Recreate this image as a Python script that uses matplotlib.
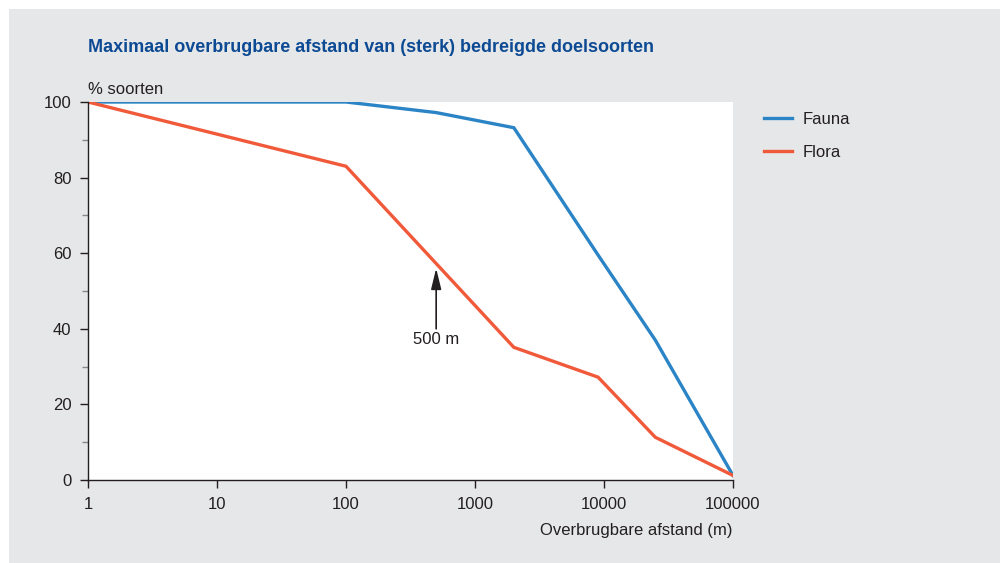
import matplotlib.pyplot as plt
from matplotlib.patches import Rectangle

afstand_fauna = [1, 100, 500, 2000, 9000, 25000, 100000]
fauna = [100, 100, 97.2, 93.2, 59.5, 37.0, 1.2]
afstand_flora = [1, 100, 2000, 9000, 25000, 100000]
flora = [100, 83, 35.1, 27.2, 11.3, 1.2]
x_ticks = [1, 10, 100, 1000, 10000, 100000]
y_ticks = [0, 20, 40, 60, 80, 100]

blue = '#2a84c6'
red = '#f05a3a'
grey_bg = '#e6e7e8'
plt.rcParams['font.family'] = ['Liberation Sans', 'DejaVu Sans']

fig = plt.figure(figsize=(10, 5.63), dpi=100)
fig.patch.set_facecolor('white')
fig.patches.append(Rectangle((0.009, 0), 0.991, 1 - 9 / 563, transform=fig.transFigure,
                             facecolor=grey_bg, edgecolor='none', zorder=-10))

ax = fig.add_axes([0.088, 83 / 563, 0.645, 378 / 563])
ax.set_facecolor('white')
ax.plot(afstand_fauna, fauna, color=blue, lw=2.4, label='Fauna', solid_joinstyle='miter')
ax.plot(afstand_flora, flora, color=red, lw=2.4, label='Flora', solid_joinstyle='miter')

ax.set_xscale('log')
ax.set_xlim(1, 100000)
ax.set_ylim(0, 100)
ax.set_xticks(x_ticks)
ax.set_xticklabels([str(v) for v in x_ticks])
ax.minorticks_off()
ax.set_yticks(y_ticks)
ax.set_yticks([10, 30, 50, 70, 90], minor=True)
ax.tick_params(axis='both', which='major', length=6, width=1, labelsize=12,
               colors='#231f20', pad=6)
ax.tick_params(axis='y', which='minor', length=4, width=1, color='#888888')
ax.tick_params(axis='x', which='minor', length=0)
for s in ['top', 'right']:
    ax.spines[s].set_visible(False)
for s in ['left', 'bottom']:
    ax.spines[s].set_color('#231f20')
    ax.spines[s].set_linewidth(1)

ax.annotate('', xy=(500, 56), xytext=(500, 40),
            arrowprops=dict(arrowstyle='-|>,head_length=0.9,head_width=0.22',
                            color='#231f20', lw=1.2, mutation_scale=14,
                            shrinkA=0, shrinkB=0))
ax.text(500, 37.2, '500 m', ha='center', va='center', fontsize=12, color='#231f20')

fig.text(0.088, 1 - 47 / 563, 'Maximaal overbrugbare afstand van (sterk) bedreigde doelsoorten',
         fontsize=13, fontweight='bold', color='#0d4a94', ha='left', va='center')
fig.text(0.088, 1 - 89 / 563, '% soorten', fontsize=12, color='#231f20', ha='left', va='center')
fig.text(0.733, 1 - 531 / 563, 'Overbrugbare afstand (m)', fontsize=12, color='#231f20',
         ha='right', va='center')

fig.legend(loc='upper left', bbox_to_anchor=(0.749, 1 - 97 / 563), frameon=False,
           fontsize=12, handlelength=1.7, labelspacing=1.1, handletextpad=0.6,
           labelcolor='#231f20')

fig.savefig('out.png', dpi=100)
